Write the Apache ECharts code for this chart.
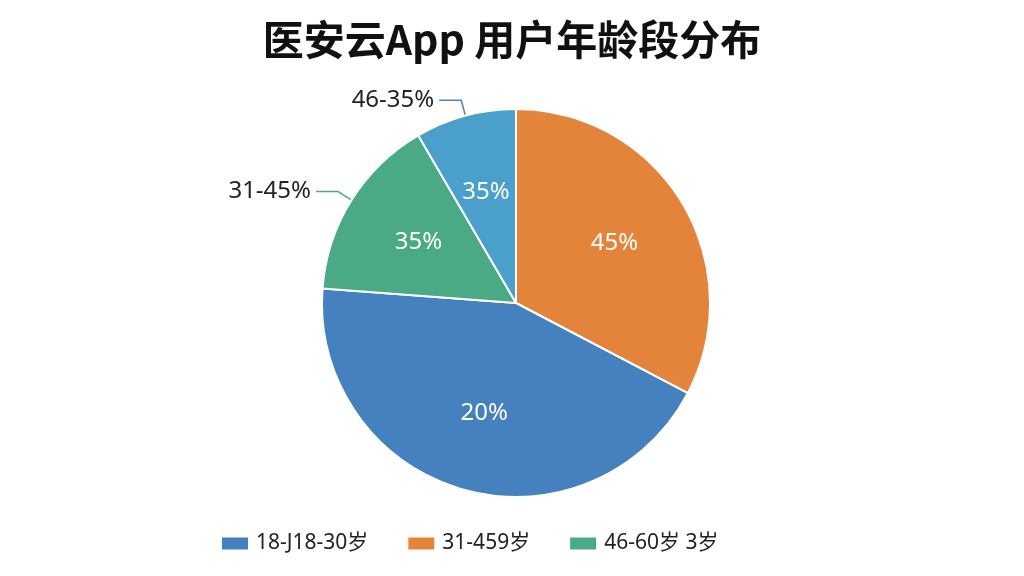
<!DOCTYPE html>
<html>
<head>
<meta charset="utf-8">
<script src="https://cdn.jsdelivr.net/npm/echarts@6/dist/echarts.min.js"></script>
<style>
html,body{margin:0;padding:0;background:#fff;}
#main{width:1024px;height:576px;}
</style>
</head>
<body>
<div id="main"></div>
<script>
// Slice names (clockwise from 12 o'clock)
const sliceNames = ['31-459岁', '18-J18-30岁', '46-60岁 3岁', '46-60岁'];
// Slice values (percent of circle)
const sliceValues = [32.7, 43.5, 15.4, 8.4];
// Inside label texts as printed on the slices
const insideLabels = ['45%', '20%', '35%', '35%'];
// Outside callout texts (empty = none)
const outsideLabels = ['', '', '31-45%', '46-35%'];
// Slice colours
const sliceColors = ['#E4843A', '#4481BE', '#4BAA86', '#4B9FCB'];
// Legend entries
const legendItems = ['18-J18-30岁', '31-459岁', '46-60岁 3岁'];
const calloutLineColors = ['#4481BE', '#4481BE', '#4BAA86', '#4A86C4'];

const chart = echarts.init(document.getElementById('main'), null, {renderer: 'canvas'});
const FONT = '"Noto Sans", "Noto Sans CJK SC", sans-serif';

const mainData = sliceNames.map((n, i) => ({
  name: n,
  value: sliceValues[i],
  itemStyle: {color: sliceColors[i]}
}));
const innerLabelData = sliceNames.map((n, i) => ({
  name: n + '\u200b',
  value: sliceValues[i],
  itemStyle: {color: 'rgba(0,0,0,0)', borderWidth: 0},
  label: {formatter: insideLabels[i]}
}));
const calloutData = sliceNames.map((n, i) => ({
  name: n + ' ',
  value: sliceValues[i],
  itemStyle: {color: 'rgba(0,0,0,0)', borderWidth: 0},
  label: {show: outsideLabels[i] !== '', formatter: outsideLabels[i]},
  labelLine: {show: outsideLabels[i] !== '', lineStyle: {color: calloutLineColors[i], width: 1.5}}
}));

chart.setOption({
  backgroundColor: '#ffffff',
  animation: false,
  title: {
    text: '医安云App 用户年龄段分布',
    left: 'center',
    top: 14,
    textStyle: {fontFamily: '"Noto Sans CJK SC", sans-serif', fontSize: 41, fontWeight: 'bold', color: '#111'}
  },
  legend: {
    data: legendItems,
    left: 215,
    top: 528,
    icon: 'rect',
    itemWidth: 28,
    itemHeight: 14,
    itemGap: 38,
    textStyle: {fontFamily: FONT, fontSize: 21, color: '#222', padding: [0, 0, 0, 2]}
  },
  series: [
    {
      type: 'pie',
      center: [516, 303],
      radius: [0, 194],
      startAngle: 90,
      clockwise: true,
      avoidLabelOverlap: false,
      itemStyle: {borderColor: '#fff', borderWidth: 2},
      label: {show: false},
      labelLine: {show: false},
      emphasis: {disabled: true},
      data: mainData
    },
    {
      type: 'pie',
      center: [516, 303],
      radius: [0, 224],
      startAngle: 90,
      clockwise: true,
      silent: true,
      legendHoverLink: false,
      avoidLabelOverlap: false,
      label: {show: true, position: 'inside', color: '#fff', fontSize: 24, fontFamily: FONT},
      labelLine: {show: false},
      emphasis: {disabled: true},
      data: innerLabelData
    },
    {
      type: 'pie',
      center: [516, 303],
      radius: [0, 194],
      startAngle: 90,
      clockwise: true,
      silent: true,
      legendHoverLink: false,
      avoidLabelOverlap: false,
      label: {position: 'outside', color: '#222', fontSize: 24, fontFamily: FONT},
      labelLine: {length: 16, length2: 22},
      emphasis: {disabled: true},
      data: calloutData
    }
  ]
});
</script>
</body>
</html>
